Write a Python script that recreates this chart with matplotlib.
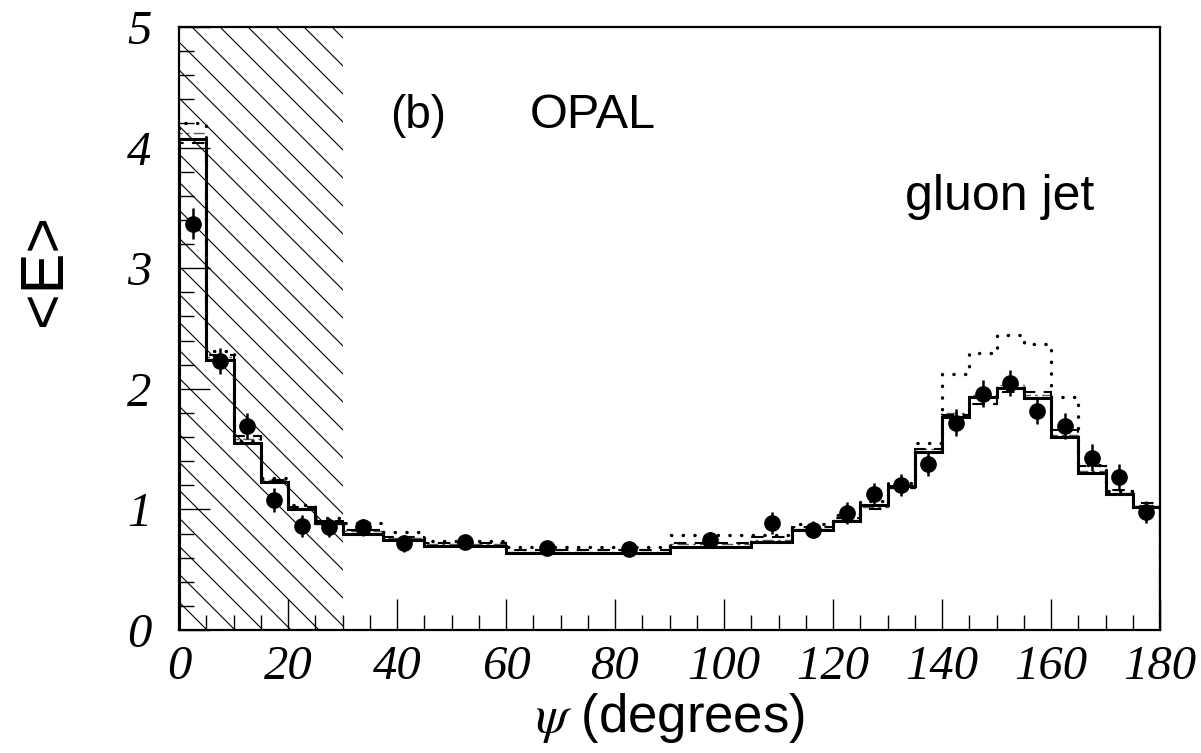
import numpy as np
import matplotlib
matplotlib.use("Agg")
import matplotlib.pyplot as plt
from matplotlib.patches import Rectangle
from matplotlib.ticker import MultipleLocator

plt.rcParams["mathtext.fontset"] = "stix"

# bin edges (degrees) and data
edges = [0, 5, 10, 15, 20, 25, 30, 37.5, 45, 60, 75, 90, 105, 112.5, 120,
         125, 130, 135, 140, 145, 150, 155, 160, 165, 170, 175, 180]
data_val = [3.37, 2.23, 1.69, 1.08, 0.86, 0.85, 0.85, 0.72, 0.73, 0.68, 0.67, 0.75, 0.89,
            0.83, 0.97, 1.13, 1.20, 1.38, 1.72, 1.96, 2.05, 1.82, 1.69, 1.43, 1.27, 0.98]
data_err = [0.13, 0.11, 0.11, 0.10, 0.09, 0.08, 0.07, 0.07, 0.06, 0.06, 0.06, 0.06, 0.09,
            0.07, 0.09, 0.09, 0.09, 0.10, 0.11, 0.11, 0.11, 0.11, 0.11, 0.11, 0.11, 0.09]
mc_solid = [4.07, 2.24, 1.55, 1.23, 1.00, 0.89, 0.80, 0.75, 0.70, 0.64, 0.64, 0.69, 0.73,
            0.83, 0.90, 1.04, 1.19, 1.48, 1.77, 1.93, 2.01, 1.92, 1.60, 1.30, 1.13, 1.02]
mc_dotted = [4.20, 2.31, 1.57, 1.26, 1.04, 0.93, 0.89, 0.81, 0.74, 0.69, 0.69, 0.79, 0.79,
             0.88, 0.95, 1.07, 1.22, 1.55, 2.12, 2.30, 2.45, 2.37, 1.93, 1.37, 1.15, 1.03]
mc_dashed = [4.04, 2.28, 1.61, 1.24, 1.02, 0.90, 0.83, 0.77, 0.72, 0.66, 0.66, 0.72, 0.77,
             0.85, 0.93, 1.00, 1.18, 1.50, 1.78, 1.87, 1.97, 1.97, 1.66, 1.36, 1.16, 1.05]
mc_dashdot = [4.12, 2.26, 1.58, 1.24, 1.01, 0.88, 0.82, 0.76, 0.71, 0.65, 0.65, 0.71, 0.75,
              0.84, 0.91, 1.02, 1.18, 1.50, 1.80, 1.95, 2.03, 1.95, 1.62, 1.32, 1.14, 1.03]
hatch_end = 30

edges_a = np.array(edges)
centers = 0.5 * (edges_a[1:] + edges_a[:-1])

fig = plt.figure(figsize=(12.01, 7.53), dpi=100)
ax = fig.add_axes([179 / 1201, 1 - 630 / 753, 981 / 1201, 603 / 753])
ax.set_xlim(0, 180)
ax.set_ylim(0, 5)

# hatched excluded region, 45 degree lines in screen space
clip = Rectangle((0, 0), hatch_end, 5, transform=ax.transData, facecolor="none", edgecolor="none")
ax.add_patch(clip)
w_px, h_px = 981.0, 603.0
deg_per_px, unit_per_px = 180 / w_px, 5 / h_px
spacing = 28 * deg_per_px
t = np.array([0, 1200])
for x0 in np.arange(-h_px * deg_per_px, hatch_end, spacing):
    ln, = ax.plot(x0 + t * deg_per_px, 5 - t * unit_per_px, color="black", lw=0.8)
    ln.set_clip_path(clip)

ax.stairs(mc_dashdot, edges, baseline=0, color="0.35", lw=1.0, linestyle=(0, (8, 3, 2, 3)))
ax.stairs(mc_dashed, edges, baseline=0, color="black", lw=1.5, linestyle=(0, (6, 4)))
ax.stairs(mc_dotted, edges, baseline=0, color="black", lw=2.4, linestyle=(0, (0.1, 3.4)),
          capstyle="round")
ax.stairs(mc_solid, edges, baseline=0, color="black", lw=2.2)
ax.errorbar(centers, data_val, yerr=data_err, fmt="o", color="black", ms=11,
            elinewidth=1.8, capsize=0, zorder=5)

ax.xaxis.set_major_locator(MultipleLocator(20))
ax.xaxis.set_minor_locator(MultipleLocator(5))
ax.yaxis.set_major_locator(MultipleLocator(1))
ax.yaxis.set_minor_locator(MultipleLocator(0.2))
ax.tick_params(which="both", direction="in", top=False, right=False, width=1.0)
ax.tick_params(which="major", length=22)
ax.tick_params(which="minor", length=11)
ax.tick_params(axis="x", pad=11)
ax.tick_params(axis="y", pad=20)
for lab in ax.get_xticklabels() + ax.get_yticklabels():
    lab.set_fontfamily("Liberation Serif")
    lab.set_fontstyle("italic")
    lab.set_fontsize(35)
for sp in ax.spines.values():
    sp.set_linewidth(1.6)

ax.text(38.7, 4.16, "(b)", fontsize=33, family="Liberation Sans", va="baseline")
ax.text(64.4, 4.16, "OPAL", fontsize=35, family="Liberation Sans", va="baseline")
ax.text(133.2, 3.48, "gluon jet", fontsize=36, family="Liberation Sans", va="baseline")

fig.text(45 / 1201, 1 - 270 / 753, "<E>", rotation=90, ha="center", va="center",
         fontsize=44, family="Liberation Sans")
fig.text(670 / 1201, 1 - 718 / 753, r"$\psi$ (degrees)", ha="center", va="center",
         fontsize=38, family="Liberation Sans")

fig.savefig("out.png", dpi=100)
